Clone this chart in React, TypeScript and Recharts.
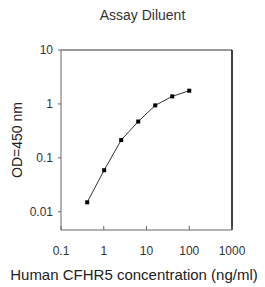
import React from 'react';
import { LineChart, Line, XAxis, YAxis, ReferenceLine, Label } from 'recharts';

const concentrations = [0.41, 1.02, 2.56, 6.4, 16, 40, 100];
const odValues = [0.015, 0.059, 0.214, 0.472, 0.94, 1.38, 1.76];
const xTicks = [0.1, 1, 10, 100, 1000];
const yTicks = [0.01, 0.1, 1, 10];

const data = concentrations.map((c, i) => ({ x: c, y: odValues[i] }));

const FONT = 'Liberation Sans, Arial, sans-serif';

const SquareDot = (props: any) => {
  const { cx, cy } = props;
  if (cx == null || cy == null) return null;
  return <rect x={cx - 2} y={cy - 2} width={4} height={4} fill="#000" />;
};

export default function App() {
  return (
    <div style={{ position: 'absolute', left: 0, top: 0, width: 265, height: 287, background: '#fff' }}>
      <div
        style={{
          position: 'absolute',
          left: 0,
          top: 7,
          width: 285,
          textAlign: 'center',
          fontFamily: FONT,
          fontSize: 14,
          color: '#333',
        }}
      >
        Assay Diluent
      </div>
      <LineChart
        width={265}
        height={287}
        data={data}
        margin={{ top: 50, right: 33, left: 21, bottom: 27 }}
      >
        <XAxis
          dataKey="x"
          type="number"
          scale="log"
          domain={[0.1, 1000]}
          ticks={xTicks}
          allowDataOverflow
          height={30}
          stroke="#666"
          tickSize={-4}
          tickMargin={20}
          tick={{ fill: '#333', fontSize: 12, fontFamily: FONT }}
          tickLine={{ stroke: '#666' }}
        />
        <YAxis
          dataKey="y"
          type="number"
          scale="log"
          domain={[0.0046, 10]}
          ticks={yTicks}
          allowDataOverflow
          width={40}
          stroke="#666"
          tickSize={3}
          tickMargin={5}
          tick={{ fill: '#333', fontSize: 12, fontFamily: FONT }}
        >
          <Label
            value="OD=450 nm"
            angle={-90}
            position="insideLeft"
            offset={-4}
            style={{ textAnchor: 'middle', fill: '#222', fontSize: 14, fontFamily: FONT }}
          />
        </YAxis>
        <ReferenceLine y={10} stroke="#777" strokeWidth={1.5} />
        <ReferenceLine x={1000} stroke="#000" strokeWidth={1.5} />
        <Line
          dataKey="y"
          stroke="#333"
          strokeWidth={1}
          dot={<SquareDot />}
          activeDot={false}
          isAnimationActive={false}
        />
      </LineChart>
      <div
        style={{
          position: 'absolute',
          left: 0,
          top: 266,
          width: 268,
          textAlign: 'center',
          whiteSpace: 'nowrap',
          fontFamily: FONT,
          fontSize: 15,
          color: '#222',
        }}
      >
        Human CFHR5 concentration (ng/ml)
      </div>
    </div>
  );
}
